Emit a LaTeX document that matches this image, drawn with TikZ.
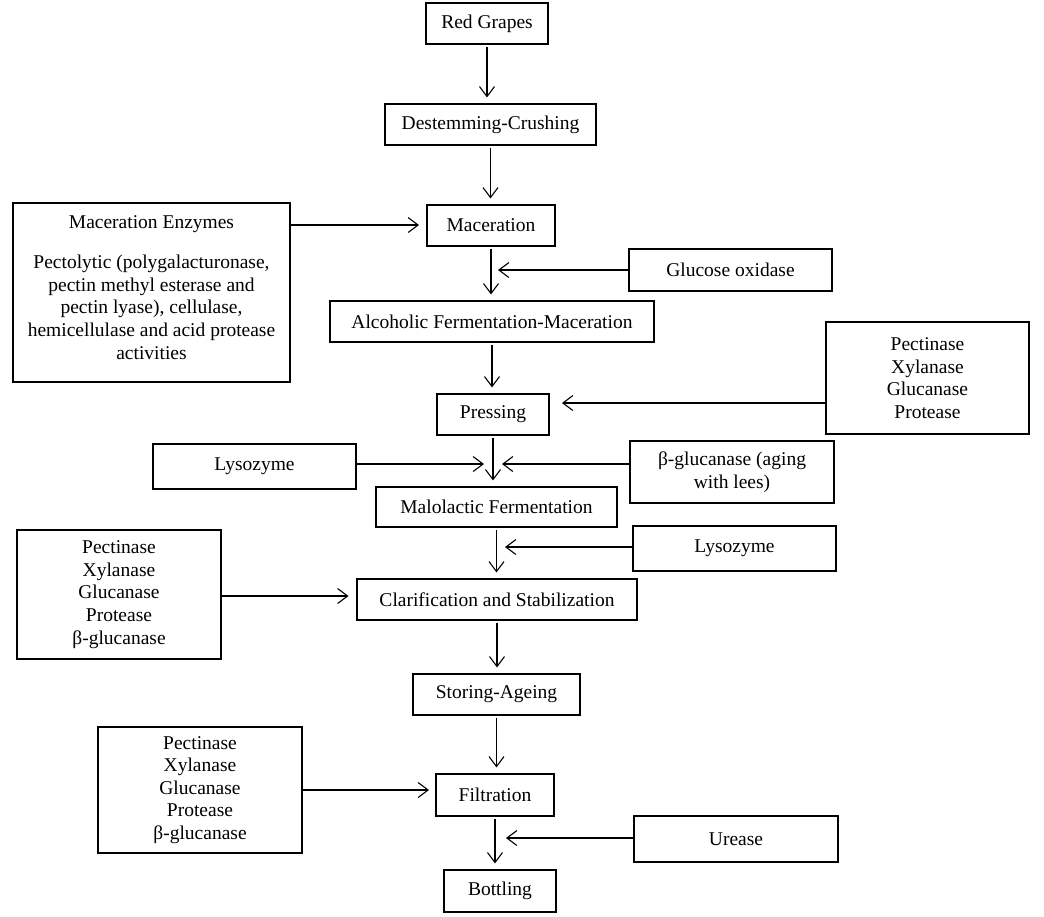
\documentclass[tikz,border=0pt]{standalone}
\usepackage{fontspec}
\setmainfont{Liberation Serif}
\usetikzlibrary{arrows.meta}
\begin{document}
\begin{tikzpicture}[x=1pt,y=-1pt,
  bx/.style={draw, line width=1.1pt, inner sep=0pt, align=center,
    font=\fontsize{19.5}{22.6}\selectfont},
  arr/.style={line width=1.1pt, -{Straight Barb[length=10pt,width=15pt,line width=1.1pt]}},
  vert/.style={arr, shorten <=2pt, shorten >=6pt}]
\useasboundingbox (0,0) rectangle (1044,916);
% main column
\node[bx, minimum width=122, minimum height=41] (rg) at (487,23.5) {Red Grapes};
\node[bx, minimum width=211, minimum height=41] (dc) at (490.5,124.5) {Destemming-Crushing};
\node[bx, minimum width=128, minimum height=41] (mac) at (491,225.5) {Maceration};
\node[bx, minimum width=324, minimum height=41] (alc) at (492,321.5) {Alcoholic Fermentation-Maceration};
\node[bx, minimum width=112, minimum height=41] (press) at (493,414.5) {Pressing};
\node[bx, minimum width=241, minimum height=40] (malo) at (496.5,507) {Malolactic Fermentation};
\node[bx, minimum width=280, minimum height=41] (clar) at (497,599.5) {Clarification and Stabilization};
\node[bx, minimum width=167, minimum height=41] (stor) at (496.5,694.5) {Storing-Ageing};
\node[bx, minimum width=118, minimum height=42] (filt) at (495,795) {Filtration};
\node[bx, minimum width=112, minimum height=42] (bott) at (500,891) {Bottling};
% side boxes
\node[bx, minimum width=277, minimum height=179,
  label={[align=center, font=\fontsize{19.5}{22.6}\selectfont, yshift=5pt]center:Maceration Enzymes\\[17.5pt]Pectolytic (polygalacturonase,\\pectin methyl esterase and\\pectin lyase), cellulase,\\hemicellulase and acid protease\\activities}] (me) at (151.5,292.5) {};
\node[bx, minimum width=203, minimum height=42] (gox) at (730.5,270) {Glucose oxidase};
\node[bx, minimum width=203, minimum height=112] (pr) at (927.5,378) {Pectinase\\Xylanase\\Glucanase\\Protease};
\node[bx, minimum width=203, minimum height=45] (lysl) at (254.5,466.5) {Lysozyme};
\node[bx, minimum width=204, minimum height=62] (bg) at (732,472) {β-glucanase (aging\\with lees)};
\node[bx, minimum width=203, minimum height=45] (lysr) at (734.5,548.5) {Lysozyme};
\node[bx, minimum width=204, minimum height=129] (pl) at (119,594.5) {Pectinase\\Xylanase\\Glucanase\\Protease\\β-glucanase};
\node[bx, minimum width=204, minimum height=126] (pb) at (200,790) {Pectinase\\Xylanase\\Glucanase\\Protease\\β-glucanase};
\node[bx, minimum width=204, minimum height=46] (ure) at (736,839) {Urease};
% vertical flow
\draw[vert] (rg.south) -- (rg.south |- dc.north);
\draw[vert] (dc.south) -- (dc.south |- mac.north);
\draw[vert] (mac.south) -- (mac.south |- alc.north);
\draw[vert] (alc.south) -- (alc.south |- press.north);
\draw[vert] (press.south) -- (press.south |- malo.north);
\draw[vert] (malo.south) -- (malo.south |- clar.north);
\draw[vert] (clar.south) -- (clar.south |- stor.north);
\draw[vert] (stor.south) -- (stor.south |- filt.north);
\draw[vert] (filt.south) -- (filt.south |- bott.north);
% tip coordinates of side arrows
\coordinate (tme) at (419,225);
\coordinate (tgox) at (498,270);
\coordinate (tpr) at (562,403);
\coordinate (tlysl) at (484,464);
\coordinate (tbg) at (502,464);
\coordinate (tlysr) at (505,547);
\coordinate (tpl) at (348.5,596);
\coordinate (tpb) at (429,790);
\coordinate (ture) at (506,838);
% side arrows
\draw[arr] (me.east |- tme) -- (tme);
\draw[arr] (gox.west |- tgox) -- (tgox);
\draw[arr] (pr.west |- tpr) -- (tpr);
\draw[arr] (lysl.east |- tlysl) -- (tlysl);
\draw[arr] (bg.west |- tbg) -- (tbg);
\draw[arr] (lysr.west |- tlysr) -- (tlysr);
\draw[arr] (pl.east |- tpl) -- (tpl);
\draw[arr] (pb.east |- tpb) -- (tpb);
\draw[arr] (ure.west |- ture) -- (ture);
\end{tikzpicture}
\end{document}
